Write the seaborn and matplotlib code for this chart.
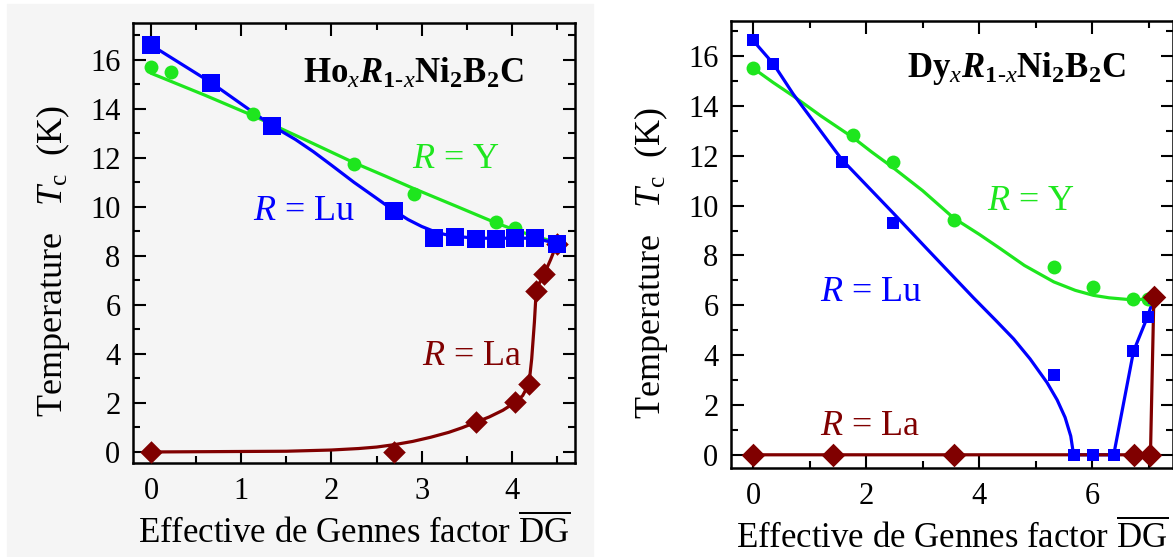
import matplotlib
matplotlib.use("Agg")
import seaborn as sns
import matplotlib.pyplot as plt
from matplotlib.patches import Rectangle
from matplotlib.ticker import MultipleLocator

# ---- Ho_x R_1-x Ni2B2C (left panel) ----
ho_lu_x = [0, 0.665, 1.345, 2.69, 3.14, 3.37, 3.60, 3.82, 4.04, 4.26, 4.50]
ho_lu_y = [16.6, 15.07, 13.28, 9.85, 8.72, 8.79, 8.69, 8.69, 8.72, 8.72, 8.49]
ho_y_x = [0, 0.22, 1.13, 2.25, 2.91, 3.82, 4.04]
ho_y_y = [15.69, 15.5, 13.78, 11.74, 10.52, 9.40, 9.13]
ho_la_x = [0, 2.69, 3.60, 4.04, 4.19, 4.27, 4.36, 4.50]
ho_la_y = [0, 0, 1.21, 2.03, 2.78, 6.58, 7.27, 8.5]

# fitted curves as drawn in the figure
ho_lu_fit_x = [0, 0.665, 1.345, 1.6, 1.8, 2.0, 2.25, 2.5, 2.69, 2.85, 3.0, 3.15, 3.25, 3.37, 3.6, 4.26, 4.5]
ho_lu_fit_y = [16.6, 15.07, 13.3, 12.75, 12.25, 11.7, 11.0, 10.35, 9.85, 9.48, 9.2, 8.98, 8.88, 8.8, 8.72, 8.72, 8.5]
ho_y_fit_x = [0, 0.6, 1.13, 1.7, 2.25, 2.6, 2.91, 3.4, 3.82, 4.04, 4.3, 4.5]
ho_y_fit_y = [15.45, 14.55, 13.72, 12.75, 11.8, 11.25, 10.75, 10.0, 9.35, 9.05, 8.75, 8.55]
ho_la_fit_x = [0, 1.5, 2.0, 2.3, 2.5, 2.7, 2.9, 3.1, 3.3, 3.45, 3.6, 3.75, 3.9, 4.04, 4.12, 4.19, 4.22, 4.25, 4.27, 4.3, 4.36, 4.43, 4.5]
ho_la_fit_y = [0, 0.03, 0.08, 0.14, 0.2, 0.3, 0.43, 0.6, 0.8, 0.99, 1.21, 1.43, 1.7, 2.03, 2.3, 2.78, 3.8, 5.3, 6.58, 6.85, 7.27, 7.85, 8.5]

# ---- Dy_x R_1-x Ni2B2C (right panel) ----
dy_lu_x = [0, 0.36, 1.57, 2.48, 5.32, 5.67, 6.02, 6.38, 6.73, 6.98, 7.09]
dy_lu_y = [16.63, 15.69, 11.76, 9.32, 3.20, 0, 0, 0, 4.15, 5.55, 6.29]
dy_y_x = [0, 1.77, 2.48, 3.55, 5.32, 6.02, 6.73, 6.98]
dy_y_y = [15.52, 12.84, 11.76, 9.43, 7.54, 6.73, 6.26, 6.26]
dy_la_x = [0, 1.42, 3.55, 6.74, 7.03, 7.09]
dy_la_y = [0, 0, 0, 0, 0, 6.33]

dy_lu_fit_x = [0, 0.36, 0.71, 1.57, 2.48, 3.07, 3.90, 4.3, 4.61, 4.9, 5.2, 5.38, 5.52, 5.62, 5.67, 6.38, 6.73, 6.98, 7.09]
dy_lu_fit_y = [16.63, 15.69, 14.48, 11.85, 9.7, 8.28, 6.3, 5.38, 4.65, 3.85, 2.9, 2.2, 1.5, 0.75, 0, 0, 4.15, 5.55, 6.29]
dy_y_fit_x = [0, 0.35, 0.71, 1.2, 1.77, 2.1, 2.48, 3.0, 3.55, 4.0, 4.37, 4.8, 5.32, 5.7, 6.02, 6.3, 6.6, 6.8, 7.09]
dy_y_fit_y = [15.52, 14.95, 14.4, 13.6, 12.73, 12.15, 11.52, 10.6, 9.5, 8.85, 8.28, 7.6, 6.94, 6.6, 6.40, 6.3, 6.24, 6.22, 6.3]
dy_la_fit_x = [0, 7.03, 7.09]
dy_la_fit_y = [0, 0, 6.33]

BLUE = "#0000ff"
GREEN = "#1ee61e"
RED = "#800000"
GREY = "#f5f5f5"

sns.set_style("ticks")
plt.rcParams["font.family"] = ["Liberation Serif", "DejaVu Serif"]
plt.rcParams["text.color"] = "black"
plt.rcParams["axes.labelcolor"] = "black"
plt.rcParams["mathtext.fontset"] = "custom"
plt.rcParams["mathtext.rm"] = "Liberation Serif"
plt.rcParams["mathtext.it"] = "Liberation Serif:italic"
plt.rcParams["mathtext.bf"] = "Liberation Serif:bold"
plt.rcParams["mathtext.bfit"] = "Liberation Serif:italic:bold"

fig = plt.figure(figsize=(11.73, 5.57), dpi=100)
fig.patches.append(Rectangle((7 / 1173, 0), 586 / 1173, 1 - 4 / 557,
                             transform=fig.transFigure, color=GREY, zorder=-5))

ax1 = fig.add_axes([133 / 1173, 1 - 463 / 557, 442 / 1173, 440 / 557])
ax2 = fig.add_axes([731 / 1173, 1 - 468 / 557, 441.5 / 1173, 447 / 557])
ax1.set_facecolor(GREY)
ax1.set_zorder(2)
ax2.set_zorder(2)


def curve(ax, x, y, color):
    sns.lineplot(x=x, y=y, ax=ax, color=color, lw=2.3, sort=False, estimator=None)


def points(ax, x, y, color, marker, size):
    sns.scatterplot(x=x, y=y, ax=ax, color=color, marker=marker, s=size ** 2,
                    linewidth=0, zorder=3)


# left panel
curve(ax1, ho_la_fit_x, ho_la_fit_y, RED)
points(ax1, ho_la_x, ho_la_y, RED, "D", 11.5)
curve(ax1, ho_y_fit_x, ho_y_fit_y, GREEN)
points(ax1, ho_y_x, ho_y_y, GREEN, "o", 10)
curve(ax1, ho_lu_fit_x, ho_lu_fit_y, BLUE)
points(ax1, ho_lu_x, ho_lu_y, BLUE, "s", 12.5)

# right panel
curve(ax2, dy_y_fit_x, dy_y_fit_y, GREEN)
points(ax2, dy_y_x, dy_y_y, GREEN, "o", 10)
curve(ax2, dy_lu_fit_x, dy_lu_fit_y, BLUE)
points(ax2, dy_lu_x, dy_lu_y, BLUE, "s", 8.5)
curve(ax2, dy_la_fit_x, dy_la_fit_y, RED)
points(ax2, dy_la_x, dy_la_y, RED, "D", 12)

ax1.set_xlim(-0.2, 4.7)
ax1.set_ylim(-0.45, 17.5)
ax2.set_xlim(-0.39, 7.42)
ax2.set_ylim(-0.53, 17.41)

ax1.xaxis.set_major_locator(MultipleLocator(1))
ax1.xaxis.set_minor_locator(MultipleLocator(0.5))
ax2.xaxis.set_major_locator(MultipleLocator(2))
ax2.xaxis.set_minor_locator(MultipleLocator(1))

for ax in (ax1, ax2):
    ax.yaxis.set_major_locator(MultipleLocator(2))
    ax.yaxis.set_minor_locator(MultipleLocator(1))
    ax.tick_params(which="both", direction="in", top=True, right=True,
                   width=1.5, labelsize=22, colors="black")
    ax.tick_params(which="major", length=9)
    ax.tick_params(which="minor", length=5)
    ax.tick_params(axis="x", pad=10)
    ax.tick_params(axis="y", pad=9)
    for s in ax.spines.values():
        s.set_linewidth(1.8)
        s.set_color("black")
    ax.set_xlabel(r"Effective de Gennes factor $\overline{\mathrm{DG}}$",
                  fontsize=25, labelpad=6)
    ax.set_ylabel(r"Temperature   $T_{\mathrm{c}}$  (K)", fontsize=26, labelpad=13)
    ax.yaxis.label.set_y(0.46)

ax1.text(1.68, 15.05, r"$\mathbf{Ho}_{x}\mathbfit{R}_{\mathbf{1}\text{-}x}\mathbf{Ni}_{\mathbf{2}}\mathbf{B}_{\mathbf{2}}\mathbf{C}$",
         fontsize=25)
ax1.text(2.89, 11.6, r"$R$ = Y", color=GREEN, fontsize=26)
ax1.text(1.13, 9.47, r"$R$ = Lu", color=BLUE, fontsize=26)
ax1.text(3.0, 3.55, r"$R$ = La", color=RED, fontsize=26)

ax2.text(2.72, 15.15, r"$\mathbf{Dy}_{x}\mathbfit{R}_{\mathbf{1}\text{-}x}\mathbf{Ni}_{\mathbf{2}}\mathbf{B}_{\mathbf{2}}\mathbf{C}$",
         fontsize=25)
ax2.text(4.14, 9.83, r"$R$ = Y", color=GREEN, fontsize=26)
ax2.text(1.19, 6.19, r"$R$ = Lu", color=BLUE, fontsize=26)
ax2.text(1.19, 0.81, r"$R$ = La", color=RED, fontsize=26)

fig.savefig("out.png", dpi=100)
